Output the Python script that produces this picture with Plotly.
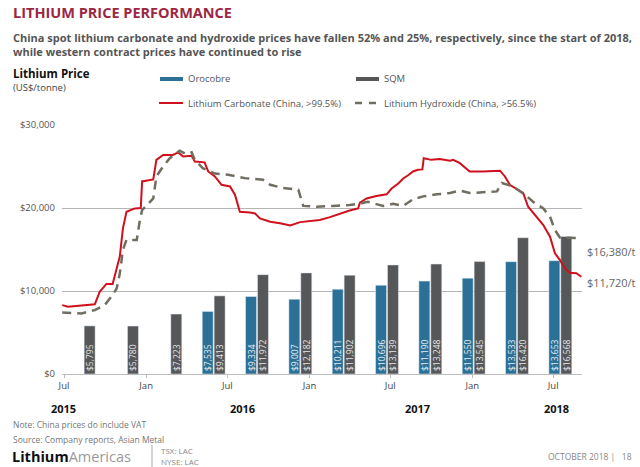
import plotly.graph_objects as go

# ---------------- data ----------------
quarters = ["Q3 2015", "Q4 2015", "Q1 2016", "Q2 2016", "Q3 2016", "Q4 2016",
            "Q1 2017", "Q2 2017", "Q3 2017", "Q4 2017", "Q1 2018", "Q2 2018"]
orocobre = [None, None, None, 7535, 9334, 9007, 10211, 10696, 11190, 11550, 13533, 13653]
sqm = [5795, 5780, 7223, 9413, 11972, 12182, 11902, 13139, 13248, 13545, 16420, 16568]

carb_dates = ["2015-06-27", "2015-07-10", "2015-09-08", "2015-09-19", "2015-10-04", "2015-10-18",
              "2015-10-27", "2015-11-03", "2015-11-10", "2015-11-18", "2015-12-07", "2015-12-20",
              "2015-12-23", "2016-01-17", "2016-01-24", "2016-02-08", "2016-03-01", "2016-03-13",
              "2016-03-24", "2016-04-12", "2016-04-19", "2016-05-11", "2016-05-19", "2016-06-03",
              "2016-06-18", "2016-07-07", "2016-07-18", "2016-07-29", "2016-08-21", "2016-09-01",
              "2016-09-12", "2016-10-05", "2016-10-27", "2016-11-19", "2016-12-11", "2017-01-02",
              "2017-01-24", "2017-02-16", "2017-03-10", "2017-04-01", "2017-04-20", "2017-04-24",
              "2017-05-09", "2017-05-31", "2017-06-23", "2017-07-04", "2017-07-19", "2017-07-30",
              "2017-08-10", "2017-08-21", "2017-09-01", "2017-09-11", "2017-09-14", "2017-10-01",
              "2017-10-20", "2017-11-12", "2017-11-19", "2017-12-04", "2017-12-26", "2018-01-25",
              "2018-03-04", "2018-03-15", "2018-03-26", "2018-04-25", "2018-05-06", "2018-05-21",
              "2018-06-09", "2018-06-24", "2018-07-05", "2018-07-16", "2018-07-27", "2018-08-07",
              "2018-08-22", "2018-09-02"]
carb_values = [8300, 8100, 8400, 9900, 10850, 10850,
               12700, 14150, 17550, 19550, 19950, 20000,
               23200, 23450, 25800, 26400, 26400, 26700,
               26200, 26300, 25600, 25500, 24400, 23800,
               22800, 22600, 21600, 19550, 19450, 19350,
               18750, 18350, 18150, 17900, 18300, 18400,
               18550, 18900, 19300, 19700, 19950, 20650,
               21150, 21450, 21650, 22350, 22950, 23550,
               23950, 24400, 24600, 24650, 26000, 25800,
               25900, 25700, 25800, 25400, 24400, 24400,
               24500, 23800, 22800, 21800, 20150, 19150,
               17950, 16550, 14550, 13750, 12750, 12200,
               12150, 11720]

hydr_dates = ["2015-06-27", "2015-08-09", "2015-09-08", "2015-09-30", "2015-10-15", "2015-10-27",
              "2015-11-03", "2015-11-10", "2015-11-18", "2015-12-11", "2015-12-18", "2015-12-23",
              "2016-01-17", "2016-01-24", "2016-02-08", "2016-02-23", "2016-03-16", "2016-03-31",
              "2016-04-12", "2016-04-19", "2016-05-07", "2016-06-03", "2016-07-03", "2016-08-09",
              "2016-09-19", "2016-10-05", "2016-11-03", "2016-12-07", "2016-12-18", "2017-01-17",
              "2017-02-23", "2017-04-01", "2017-04-24", "2017-05-12", "2017-06-15", "2017-07-07",
              "2017-07-30", "2017-08-21", "2017-09-13", "2017-10-13", "2017-11-12", "2017-12-04",
              "2017-12-26", "2018-01-25", "2018-02-25", "2018-03-08", "2018-04-02", "2018-04-29",
              "2018-05-17", "2018-06-09", "2018-06-24", "2018-07-05", "2018-07-16", "2018-09-02"]
hydr_values = [7400, 7300, 7700, 8300, 9300, 10300,
               12100, 14950, 16150, 16150, 18550, 19750,
               21150, 23800, 25000, 26000, 26900, 26500,
               26700, 25800, 24800, 24150, 24000, 23600,
               23400, 22800, 22400, 22200, 20250, 20150,
               20250, 20350, 20550, 20750, 20250, 20500,
               20250, 21050, 21400, 21650, 21800, 22100,
               21800, 21900, 22000, 23000, 22600, 21600,
               20750, 19950, 18950, 17350, 16450, 16380]

y_ticks = [0, 10000, 20000, 30000]
y_ticktext = ["$0", "$10,000", "$20,000", "$30,000"]
x_ticks = ["2015-07-01", "2016-01-01", "2016-07-01", "2017-01-01", "2017-07-01", "2018-01-01", "2018-07-01"]
x_ticktext = ["Jul", "Jan", "Jul", "Jan", "Jul", "Jan", "Jul"]
years = ["2015", "2016", "2017", "2018"]

# ---------------- styling ----------------
FONT = "Open Sans"
W, H = 640, 467
L, R, T, B = 62, 582, 125, 374
C_ORO = "#2b7197"
C_SQM = "#555759"
C_RED = "#d0101c"
C_HYD = "#716d60"


def px(x):
    return (x - L) / (R - L)


def py(y):
    return (B - y) / (B - T)


fig = go.Figure()

fig.add_trace(go.Bar(
    x=quarters, y=orocobre, name="Orocobre", marker_color=C_ORO,
    text=[f"${v:,}" if v else "" for v in orocobre],
    textposition="inside", insidetextanchor="start", textangle=-90,
    textfont=dict(family=FONT, size=8.5, color="#e8eef2"),
    xaxis="x", yaxis="y",
))
fig.add_trace(go.Bar(
    x=quarters, y=sqm, name="SQM", marker_color=C_SQM,
    text=[f"${v:,}" for v in sqm],
    textposition="inside", insidetextanchor="start", textangle=-90,
    textfont=dict(family=FONT, size=8.5, color="#e6e6e6"),
    xaxis="x", yaxis="y",
))
fig.add_trace(go.Scatter(
    x=carb_dates, y=carb_values, mode="lines", name="Lithium Carbonate (China, >99.5%)",
    line=dict(color=C_RED, width=2),
    xaxis="x2", yaxis="y",
))
fig.add_trace(go.Scatter(
    x=hydr_dates, y=hydr_values, mode="lines", name="Lithium Hydroxide (China, >56.5%)",
    line=dict(color=C_HYD, width=2.5, dash="9px,6px"),
    xaxis="x2", yaxis="y",
))

annotations = []
shapes = []


def text(x, y, s, size, color="#555", bold=False, xanchor="left", family=FONT):
    if bold:
        s = f"<b>{s}</b>"
    annotations.append(dict(
        x=px(x), y=py(y), xref="paper", yref="paper", text=s, showarrow=False,
        xanchor=xanchor, yanchor="middle", font=dict(family=family, size=size, color=color),
    ))


# title and subtitle
text(11, 13, "LITHIUM PRICE PERFORMANCE", 14.5, color="#9b2743", bold=True)
text(11, 37, "China spot lithium carbonate and hydroxide prices have fallen 52% and 25%, respectively, since the start of 2018,",
     11, color="#555555", bold=True)
text(11, 51, "while western contract prices have continued to rise", 11, color="#555555", bold=True)

# axis title
text(11, 73, "Lithium Price", 11.5, color="#111111", bold=True)
text(11, 87, "(US$/tonne)", 9.5, color="#444444")

# legend
shapes.append(dict(type="rect", xref="paper", yref="paper", x0=px(160), x1=px(183), y0=py(81), y1=py(77),
                   fillcolor=C_ORO, line=dict(width=0)))
text(186, 79, "Orocobre", 9.5, color="#555555")
shapes.append(dict(type="rect", xref="paper", yref="paper", x0=px(356), x1=px(379), y0=py(81), y1=py(77),
                   fillcolor=C_SQM, line=dict(width=0)))
text(382, 79, "SQM", 9.5, color="#555555")
shapes.append(dict(type="line", xref="paper", yref="paper", x0=px(159), x1=px(183), y0=py(103), y1=py(103),
                   line=dict(color=C_RED, width=2)))
text(186, 103, "Lithium Carbonate (China, >99.5%)", 9.5, color="#555555")
shapes.append(dict(type="line", xref="paper", yref="paper", x0=px(355), x1=px(379), y0=py(103), y1=py(103),
                   line=dict(color=C_HYD, width=2.5, dash="7px,7px")))
text(382, 103, "Lithium Hydroxide (China, >56.5%)", 9.5, color="#555555")

# end labels
text(585, 251, "$16,380/t", 11, color="#666666")
text(585, 282, "$11,720/t", 11, color="#666666")

# year labels
for yr, xx in zip(years, [63, 242, 417, 556]):
    text(xx, 408, yr, 11, color="#111111", bold=True, xanchor="center")

# footer
text(11, 424, "Note: China prices do include VAT", 8.5, color="#777777")
text(11, 439, "Source: Company reports, Asian Metal", 8.5, color="#777777")
text(10, 456, "<b>Lithium</b><span style='color:#9a9a9a'>Americas</span>", 14.5, color="#111111")
shapes.append(dict(type="line", xref="paper", yref="paper", x0=px(152), x1=px(152), y0=py(445), y1=py(468),
                   line=dict(color="#aaaaaa", width=1)))
text(159, 450, "TSX: LAC", 8, color="#888888")
text(159, 461, "NYSE: LAC", 8, color="#888888")
text(634, 456, "OCTOBER 2018 |&nbsp;&nbsp;&nbsp;18", 8.5, color="#888888", xanchor="right")

fig.update_layout(
    width=W, height=H,
    margin=dict(l=L, r=W - R, t=T, b=H - B, pad=0),
    paper_bgcolor="white", plot_bgcolor="white",
    showlegend=False,
    barmode="group", bargap=0.45, bargroupgap=0.08,
    uniformtext=dict(minsize=8.5, mode="show"),
    font=dict(family=FONT, color="#555555"),
    xaxis=dict(type="category", range=[-0.5, 11.5], visible=False, fixedrange=True),
    xaxis2=dict(type="date", overlaying="x", anchor="y", side="bottom",
                range=["2015-06-26 12:00", "2018-09-03 16:00"],
                tickvals=x_ticks, ticktext=x_ticktext,
                tickfont=dict(family=FONT, size=9.5, color="#444444"),
                showgrid=False, showline=True, linecolor="#bdbdbd", linewidth=1,
                ticks="outside", ticklen=3, tickcolor="#bdbdbd", zeroline=False),
    yaxis=dict(range=[0, 30000], tickvals=y_ticks, ticktext=y_ticktext,
               tickfont=dict(family=FONT, size=9.5, color="#555555"),
               showgrid=True, gridcolor="#b5b5b5", gridwidth=1, zeroline=False,
               showline=False, ticks="", ticklabelstandoff=6),
    annotations=annotations, shapes=shapes,
)

fig.write_html("out.html", config={"displayModeBar": False},
               post_script="document.body.style.margin='0';document.body.style.overflow='hidden';")
